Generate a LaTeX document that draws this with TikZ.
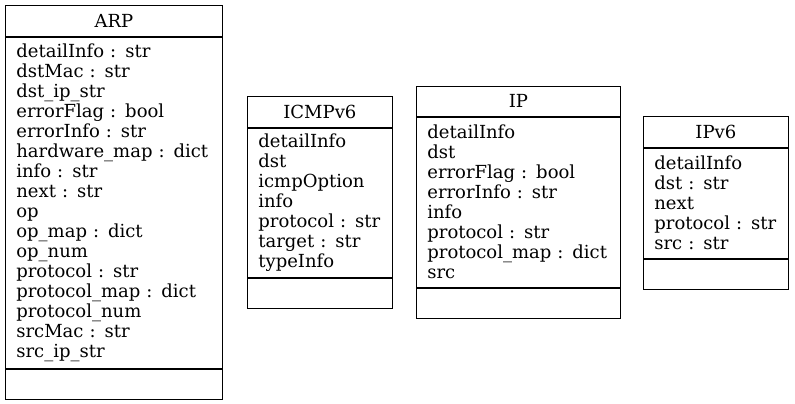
\documentclass[tikz,border=0pt]{standalone}
\usepackage{fontspec}
\setmainfont{DejaVu Serif}
\usetikzlibrary{positioning}

\tikzset{
  classname/.style={draw, line width=0.75pt, minimum width=#1, minimum height=31pt, inner sep=0pt, anchor=north west},
  classattrs/.style={draw, line width=0.75pt, text width=#1, align=left, inner xsep=11pt, inner ysep=0pt},
  classops/.style={draw, line width=0.75pt, minimum width=#1, minimum height=30pt, inner sep=0pt},
  umlfont/.style={font=\fontsize{18}{20}\selectfont},
}

\begin{document}
\begin{tikzpicture}[x=1pt, y=-1pt, every node/.append style={umlfont}]
    \useasboundingbox (0,0) rectangle (795,404);

    % ARP
    \node[classname=217pt] (arp) at (5,5) {ARP};
    \node[classattrs=195pt, minimum height=331pt, below=0pt of arp] (arpattrs) {detailInfo : str\\
dstMac : str\\
dst\_ip\_str\\
errorFlag : bool\\
errorInfo : str\\
hardware\_map : dict\\
info : str\\
next : str\\
op\\
op\_map : dict\\
op\_num\\
protocol : str\\
protocol\_map : dict\\
protocol\_num\\
srcMac : str\\
src\_ip\_str};
    \node[classops=217pt, below=0pt of arpattrs] (arpops) {};

    % ICMPv6
    \node[classname=145pt] (icmp) at (247,96) {ICMPv6};
    \node[classattrs=123pt, minimum height=149pt, below=0pt of icmp] (icmpattrs) {detailInfo\\
dst\\
icmpOption\\
info\\
protocol : str\\
target : str\\
typeInfo};
    \node[classops=145pt, below=0pt of icmpattrs] (icmpops) {};

    % IP
    \node[classname=204pt, minimum height=30pt] (ip) at (416,86) {IP};
    \node[classattrs=182pt, minimum height=170pt, below=0pt of ip] (ipattrs) {detailInfo\\
dst\\
errorFlag : bool\\
errorInfo : str\\
info\\
protocol : str\\
protocol\_map : dict\\
src};
    \node[classops=204pt, below=0pt of ipattrs] (ipops) {};

    % IPv6
    \node[classname=145pt] (ipv6) at (643,116) {IPv6};
    \node[classattrs=123pt, minimum height=110pt, below=0pt of ipv6] (ipv6attrs) {detailInfo\\
dst : str\\
next\\
protocol : str\\
src : str};
    \node[classops=145pt, below=0pt of ipv6attrs] (ipv6ops) {};

\end{tikzpicture}
\end{document}
